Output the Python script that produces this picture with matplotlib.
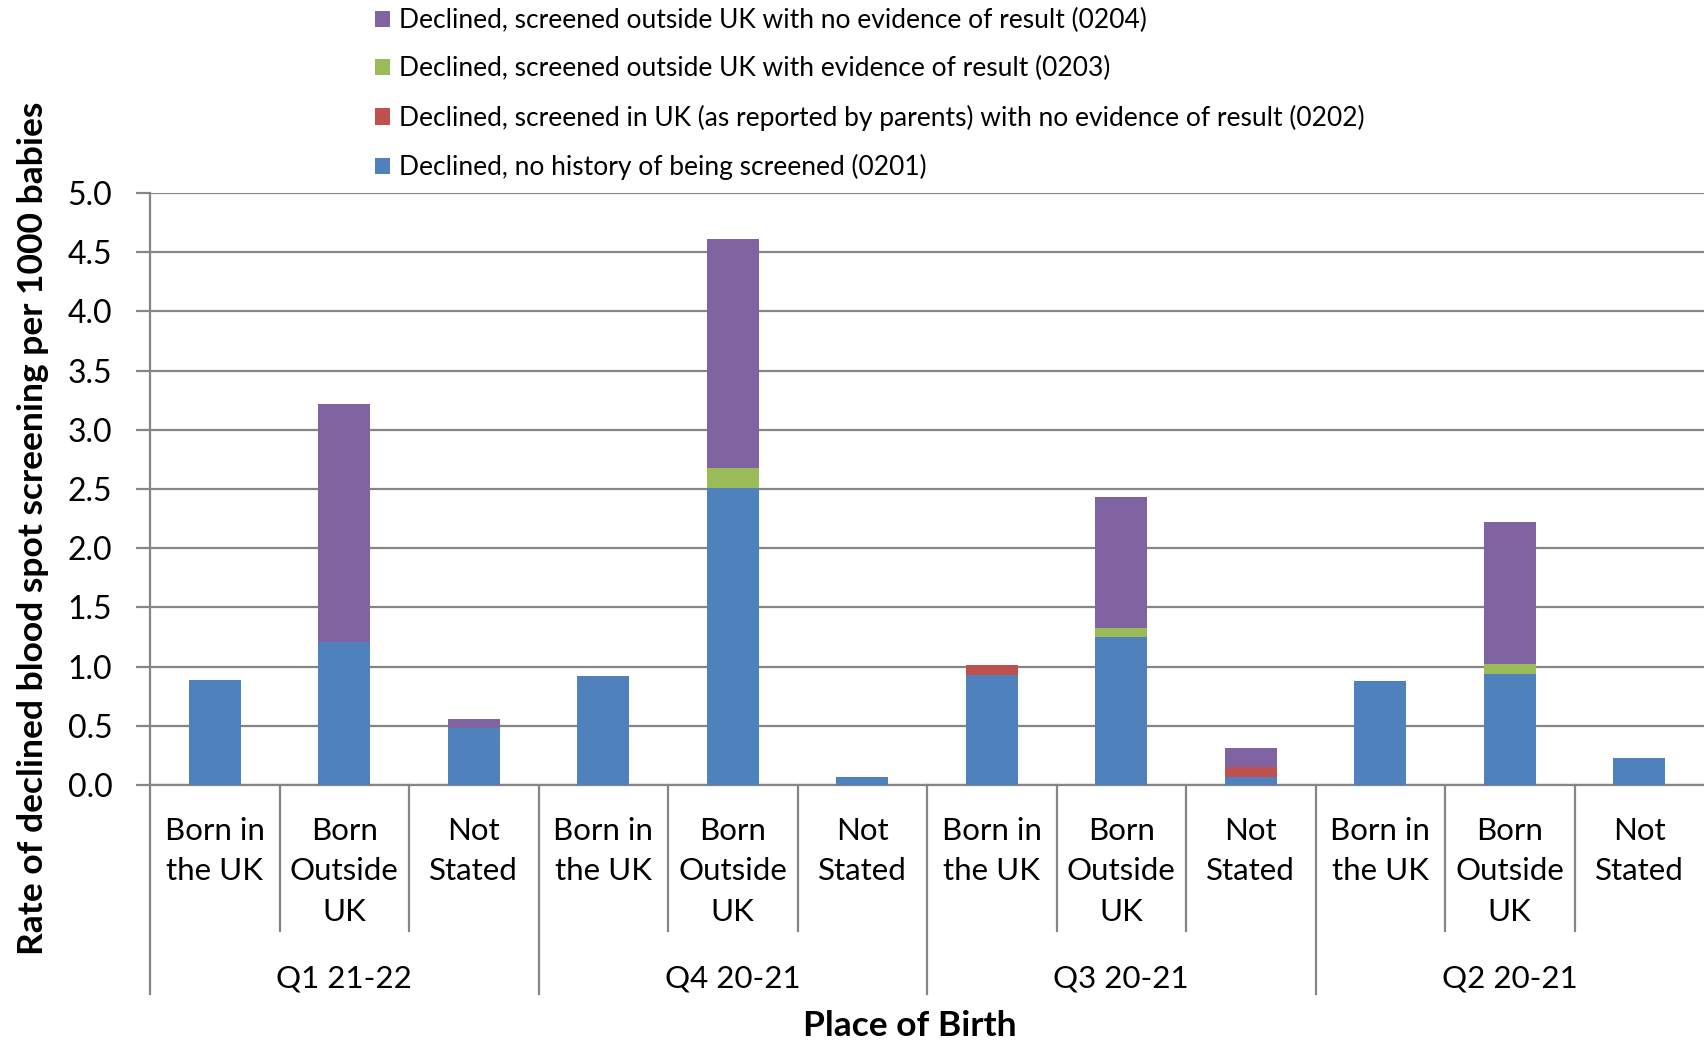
import numpy as np
import matplotlib.pyplot as plt
from matplotlib.patches import Patch

plt.rcParams['font.family'] = ['Lato', 'DejaVu Sans']

# Data: rate of declined blood spot screening per 1000 babies
quarters = ['Q1 21-22', 'Q4 20-21', 'Q3 20-21', 'Q2 20-21']
places = ['Born in\nthe UK', 'Born\nOutside\nUK', 'Not\nStated']

no_history_0201 = [0.89, 1.21, 0.48, 0.92, 2.51, 0.07, 0.93, 1.25, 0.07, 0.88, 0.94, 0.23]
screened_uk_0202 = [0.00, 0.00, 0.00, 0.00, 0.00, 0.00, 0.08, 0.00, 0.08, 0.00, 0.00, 0.00]
outside_result_0203 = [0.00, 0.00, 0.00, 0.00, 0.17, 0.00, 0.00, 0.08, 0.00, 0.00, 0.08, 0.00]
outside_noresult_0204 = [0.00, 2.01, 0.08, 0.00, 1.93, 0.00, 0.00, 1.10, 0.16, 0.00, 1.20, 0.00]

series_names = [
    'Declined, no history of being screened (0201)',
    'Declined, screened in UK (as reported by parents) with no evidence of result (0202)',
    'Declined, screened outside UK with evidence of result (0203)',
    'Declined, screened outside UK with no evidence of result (0204)',
]
colors = ['#4F81BD', '#C0504D', '#9BBB59', '#8064A2']
grey = '#858585'

W, H = 1704, 1042
fig = plt.figure(figsize=(W / 100, H / 100), dpi=100)
ax = fig.add_axes([150 / W, 1 - 785 / H, (W - 150) / W, (785 - 193) / H])

x = np.arange(len(no_history_0201))
bottom = np.zeros(len(x))
for vals, name, col in zip([no_history_0201, screened_uk_0202, outside_result_0203, outside_noresult_0204],
                           series_names, colors):
    ax.bar(x, vals, width=0.4, bottom=bottom, color=col, label=name, zorder=3)
    bottom += np.array(vals)

ax.set_xlim(-0.5, len(x) - 0.5)
ax.set_ylim(0, 5)
ax.set_yticks(np.arange(0, 5.01, 0.5))
ax.set_yticklabels([f'{v:.1f}' for v in np.arange(0, 5.01, 0.5)], fontsize=23)
ax.tick_params(axis='y', length=10, width=1.6, color=grey, pad=17)
ax.set_xticks([])
ax.grid(axis='y', color=grey, linewidth=1.6, zorder=0)
for side in ['top', 'right']:
    ax.spines[side].set_visible(False)
for side in ['left', 'bottom']:
    ax.spines[side].set_color(grey)
    ax.spines[side].set_linewidth(1.6)

# two-level category axis below the plot
tr = ax.get_xaxis_transform()
ax_h = 785 - 193
for k in range(len(x)):
    pos = k - 0.5
    if k % 3 == 0:
        y_end = (785 - 994) / ax_h
    else:
        y_end = (785 - 931) / ax_h
    ax.plot([pos, pos], [0, y_end], transform=tr, color=grey, lw=1.6, clip_on=False)

for i in x:
    lines = places[i % 3].split('\n')
    for j, line in enumerate(lines):
        ax.text(i, (785 - 831 - 40.5 * j) / ax_h, line, transform=tr, ha='center', va='center',
                fontsize=22.5, color='black')

for g, q in enumerate(quarters):
    ax.text(3 * g + 1, (785 - 979) / ax_h, q, transform=tr, ha='center', va='center',
            fontsize=22.5, color='black')

fig.text(910 / W, 1 - 1026 / H, 'Place of Birth', ha='center', va='center',
         fontsize=25.5, fontweight='bold')
fig.text(33 / W, 1 - 528 / H, 'Rate of declined blood spot screening per 1000 babies',
         ha='center', va='center', rotation=90, fontsize=25.5, fontweight='bold')

handles = [Patch(facecolor=c, edgecolor='none') for c in colors][::-1]
fig.legend(handles, series_names[::-1], loc='upper left', bbox_to_anchor=(375 / W, 1 - 8 / H),
           frameon=False, fontsize=19, handlelength=0.57, handleheight=0.57, handletextpad=0.35,
           labelspacing=0.88, borderpad=0.0, borderaxespad=0.0)

fig.savefig('out.png', dpi=100)
